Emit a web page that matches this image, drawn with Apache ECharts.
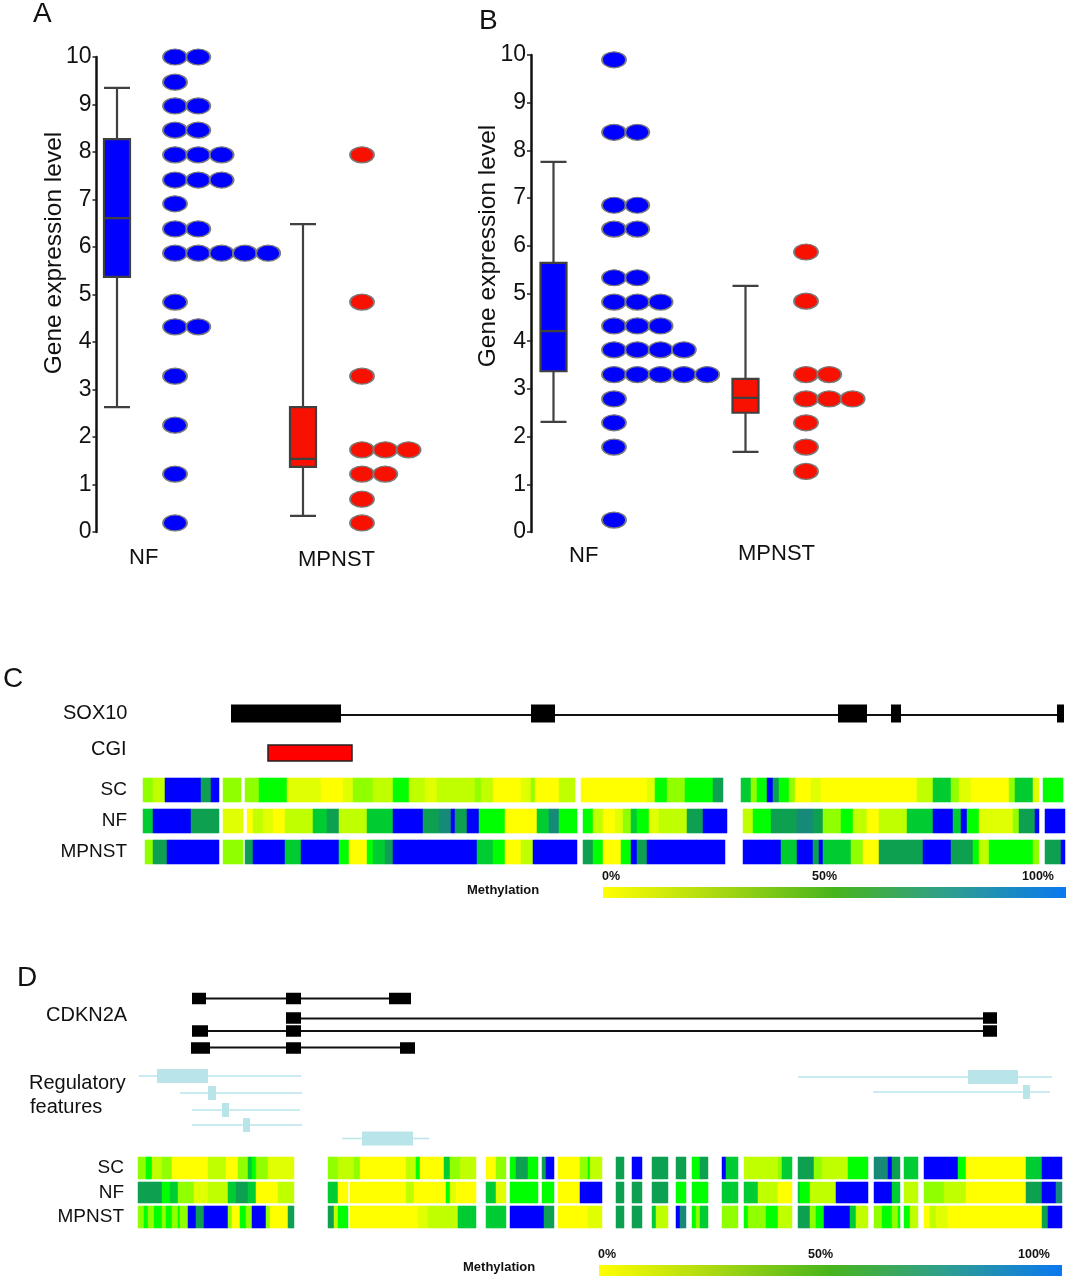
<!DOCTYPE html>
<html><head><meta charset="utf-8">
<style>html,body{margin:0;padding:0;background:#fff}#c{width:1073px;height:1280px;filter:blur(0.35px)}</style>
<script src="https://cdn.jsdelivr.net/npm/echarts@6/dist/echarts.min.js"></script>
</head><body><div id="c"></div>
<script>
// ---------- Panels A and B: box summaries [min, Q1, median, Q3, max]
const boxCategories = ['NF', 'MPNST'];
const boxANF = [2.63, 5.37, 6.61, 8.27, 9.35];
const boxAMPNST = [0.34, 1.37, 1.54, 2.63, 6.48];
const boxBNF = [2.31, 3.37, 4.21, 5.64, 7.76];
const boxBMPNST = [1.68, 2.50, 2.81, 3.21, 5.16];
const yTicks = [0,1,2,3,4,5,6,7,8,9,10];
// dot rows: [expression level, number of samples at that level]
const dotsANF = [[10,2],[9.47,1],[8.97,2],[8.46,2],[7.94,3],[7.41,3],[6.91,1],[6.38,2],[5.87,5],[4.84,1],[4.32,2],[3.28,1],[2.25,1],[1.22,1],[0.19,1]];
const dotsAMPNST = [[7.94,1],[4.84,1],[3.28,1],[1.73,3],[1.22,2],[0.69,1],[0.19,1]];
const dotsBNF = [[9.9,1],[8.38,2],[6.85,2],[6.35,2],[5.33,2],[4.82,3],[4.32,3],[3.82,4],[3.3,5],[2.79,1],[2.29,1],[1.78,1],[0.25,1]];
const dotsBMPNST = [[5.87,1],[4.84,1],[3.3,2],[2.79,3],[2.29,1],[1.78,1],[1.27,1]];

// ---------- Panel C and D methylation rows: run-length [end position, level 0-8]; null = no data
const cSC = [[1,null],[11,3],[24,2],[60,8],[70,6],[77,8],[81,null],[99,3],[103,null],[118,3],[146,4],[179,1],[202,0],[212,1],[232,3],[251,2],[268,4],[284,2],[296,1],[334,2],[339,3],[351,2],[379,0],[389,1],[394,3],[417,0],[434,2],[439,null],[506,0],[514,1],[526,4],[544,3],[571,4],[582,6],[599,null],[609,5],[615,3],[626,4],[632,8],[637,6],[647,4],[653,3],[669,0],[679,1],[775,0],[791,2],[809,5],[817,3],[829,1],[868,0],[874,3],[891,5],[897,1],[902,null],[922,4]];
const cNF = [[2,null],[11,5],[50,8],[78,6],[82,null],[101,1],[105,null],[111,0],[121,2],[132,1],[143,0],[171,2],[186,5],[197,6],[225,2],[252,5],[281,8],[297,6],[309,7],[314,8],[325,6],[337,8],[364,4],[396,0],[407,5],[418,7],[436,4],[442,null],[452,4],[461,2],[462,1],[474,0],[481,1],[489,3],[496,5],[507,4],[517,1],[546,2],[562,6],[585,8],[601,null],[612,2],[629,4],[656,6],[672,7],[682,6],[699,3],[711,4],[726,2],[737,0],[765,2],[792,5],[811,8],[819,5],[826,8],[837,4],[871,1],[877,3],[893,6],[898,8],[904,null],[924,8]];
const cMPNST = [[3,null],[11,3],[26,6],[78,8],[82,null],[101,3],[104,null],[111,6],[143,8],[159,5],[197,8],[208,4],[225,0],[232,4],[244,5],[252,6],[336,8],[352,5],[364,4],[380,0],[391,2],[436,8],[441,null],[451,6],[461,4],[479,0],[489,4],[496,8],[506,6],[584,8],[601,null],[639,8],[655,5],[671,8],[677,6],[682,8],[710,5],[721,3],[737,0],[781,6],[810,8],[831,6],[837,4],[848,2],[892,4],[897,3],[903,null],[919,6],[923,8]];
const dSC = [[8,3],[13,4],[24,2],[34,3],[70,0],[87,2],[100,0],[109,3],[114,5],[118,4],[129,3],[155,1],[190,null],[200,3],[215,2],[222,3],[267,0],[277,2],[281,4],[305,0],[311,5],[321,3],[337,2],[347,null],[357,0],[367,3],[372,null],[378,4],[389,6],[400,4],[403,null],[408,6],[415,8],[419,null],[442,0],[449,3],[452,4],[463,2],[478,null],[485,6],[493,null],[503,8],[514,null],[530,6],[538,null],[548,6],[554,null],[562,4],[569,6],[584,null],[588,8],[600,5],[605,null],[639,2],[644,3],[654,5],[659,null],[675,6],[684,3],[710,2],[729,4],[735,null],[750,7],[754,8],[762,6],[765,null],[780,5],[786,null],[819,8],[827,4],[887,0],[904,5],[924,8]];
const dNF = [[24,6],[32,4],[39,5],[55,3],[70,1],[89,2],[97,5],[110,6],[118,5],[140,0],[155,2],[190,null],[200,5],[210,0],[212,null],[267,0],[275,2],[307,0],[311,4],[317,1],[337,0],[347,null],[357,5],[367,1],[372,null],[400,4],[403,null],[415,4],[419,null],[442,0],[463,8],[478,null],[485,6],[493,null],[503,6],[514,null],[530,6],[538,null],[548,4],[554,null],[569,4],[584,null],[600,5],[605,null],[620,5],[639,2],[654,0],[659,null],[662,5],[672,4],[697,2],[729,8],[735,null],[754,8],[762,5],[765,null],[780,2],[786,null],[805,3],[827,2],[887,0],[904,6],[917,8],[924,7]];
const dMPNST = [[5,3],[9,4],[15,3],[24,4],[27,3],[34,4],[39,3],[42,4],[50,3],[57,8],[65,6],[89,8],[94,3],[102,0],[107,4],[114,3],[127,8],[132,3],[149,0],[155,6],[190,null],[195,6],[199,2],[209,4],[212,null],[279,0],[290,1],[320,2],[337,5],[347,null],[367,5],[372,null],[405,8],[415,6],[419,null],[449,0],[463,1],[478,null],[485,6],[493,null],[503,6],[514,null],[517,5],[530,2],[538,null],[542,8],[548,7],[554,null],[557,4],[562,3],[569,5],[584,null],[600,3],[605,null],[609,4],[627,3],[639,4],[654,2],[659,null],[672,6],[677,3],[685,4],[712,8],[718,5],[729,2],[735,null],[744,3],[754,4],[759,3],[762,4],[765,null],[771,4],[780,2],[786,null],[792,0],[797,2],[810,1],[904,0],[910,6],[924,8]];

// ---------- Gene tracks: [lane, start, end]
const sox10Span = [[15,90,923]];
const sox10Exons = [[13.5,90,200],[13.5,390,414],[13.5,697,726],[13.5,750,760],[13.5,916,923]];
const cgiBlock = [[53,127,211]];
const cdkn2aSpans = [[8.5,54,273],[28.5,148,859],[41,54,859],[57.5,53,277]];
const cdkn2aExons = [[8.5,54,68],[8.5,148,163],[8.5,251,273],[28,148,163],[28,845,859],[41,54,70],[41,148,163],[41,845,859],[58,53,72],[58,148,163],[58,262,277]];
const regSpans = [[86,1,163],[103,42,164],[120,54,162],[135,54,164],[148.5,204,291],[87,660,914],[102,735,912]];
const regBoxes = [[86,19,70],[103,70,78],[120,84,91],[135,105,112],[148.5,224,275],[87,830,880],[102,885,892]];

// ---------- Colour scale of the methylation rows, levels 0..8
const levelColors = ['#ffff00','#e0ff00','#c0ff00','#90ff00','#00ff00','#00cc33','#0da050','#178a78','#0000ff'];

// ---------- Builders
const grids=[], xAxes=[], yAxes=[], series=[], graphics=[], heatIdx=[];
const FONT='"Liberation Sans", Arial, sans-serif';
function addGrid(g,x,y){ const i=grids.length; grids.push(g); xAxes.push(Object.assign({gridIndex:i},x)); yAxes.push(Object.assign({gridIndex:i},y)); return i; }
function text(t,x,y,size,opt){ graphics.push(Object.assign({type:'text',x,y,silent:true,style:Object.assign({text:t,x:0,y:0,fill:'#111',font:size+'px '+FONT,textAlign:'left',textVerticalAlign:'middle'},opt&&opt.style||{})},opt&&opt.el||{})); }
function hiddenY(){ return {type:'value',min:0,max:10,show:false}; }

function boxPanel(top,height,axisX,boxL,boxW,boxNF,boxM,dotNF,dotNFx,dotM,dotMx){
  const g=addGrid({left:boxL,width:boxW,top,height},
    {type:'category',data:boxCategories,boundaryGap:false,show:false},
    {type:'value',min:0,max:10,interval:1,offset:boxL-axisX,
     axisLine:{show:true,lineStyle:{color:'#111',width:2.5}},axisTick:{show:true,length:4,lineStyle:{color:'#222',width:1.5}},
     splitLine:{show:false},axisLabel:{fontSize:23,color:'#111',fontFamily:FONT,margin:5}});
  series.push({type:'boxplot',xAxisIndex:g,yAxisIndex:g,boxWidth:[26,26],silent:true,animation:false,
    itemStyle:{borderColor:'#404040',borderWidth:2.2},
    data:[{value:boxNF,itemStyle:{color:'#0000ff'}},{value:boxM,itemStyle:{color:'#f81000'}}]});
  [[dotNF,dotNFx,4,'#0000ff'],[dotM,dotMx,2,'#f81000']].forEach(([rows,px,maxCol,col])=>{
    const gi=addGrid({left:px,width:23.3*maxCol,top,height},{type:'value',min:0,max:maxCol,show:false},hiddenY());
    const d=[]; rows.forEach(([v,n])=>{for(let k=0;k<n;k++)d.push([k,v]);});
    series.push({type:'scatter',xAxisIndex:gi,yAxisIndex:gi,symbol:'circle',symbolSize:[24,16],silent:true,animation:false,clip:false,
      itemStyle:{color:col,borderColor:'#7a7a7a',borderWidth:1.5,opacity:1},data:d});
  });
}
boxPanel(57,475,96.5,117,186,boxANF,boxAMPNST,dotsANF,175,dotsAMPNST,362);
boxPanel(55,477,531,553.5,192,boxBNF,boxBMPNST,dotsBNF,614,dotsBMPNST,806);

function expand(rle){ const out=[]; let pos=0; rle.forEach(([end,lv])=>{ if(lv!==null){ for(let c=Math.round(pos/2);c<Math.round(end/2);c++) out.push([c,0,lv]); } pos=end; }); return out; }
const colNames=[]; for(let i=0;i<462;i++) colNames.push(i);
function heatRow(name,rle,left,top,h){
  const g=addGrid({left,width:924,top,height:h},{type:'category',data:colNames,show:false},
   {type:'category',data:[name],axisLine:{show:false},axisTick:{show:false},axisLabel:{fontSize:19,color:'#111',fontFamily:FONT,margin:14}});
  heatIdx.push(series.length);
  series.push({type:'heatmap',xAxisIndex:g,yAxisIndex:g,data:expand(rle),silent:true,animation:false,progressive:0,itemStyle:{borderWidth:0}});
}
heatRow('SC',cSC,141,778,24); heatRow('NF',cNF,141,809,24); heatRow('MPNST',cMPNST,141,840,24);
heatRow('SC',dSC,138,1157,22); heatRow('NF',dNF,138,1182,21); heatRow('MPNST',dMPNST,138,1206,22);

function rectItem(h,color,stroke){ return function(p,api){ const y=api.value(0),a=api.coord([api.value(1),y]),b=api.coord([api.value(2),y]);
  return {type:'rect',shape:{x:a[0],y:a[1]-h/2,width:b[0]-a[0],height:h},style:{fill:color,stroke:stroke||null,lineWidth:stroke?1.5:0}}; }; }
function lineItem(w,color){ return function(p,api){ const y=api.value(0),a=api.coord([api.value(1),y]),b=api.coord([api.value(2),y]);
  return {type:'line',shape:{x1:a[0],y1:a[1],x2:b[0],y2:b[1]},style:{stroke:color,lineWidth:w}}; }; }
function track(g,data,fn){ series.push({type:'custom',xAxisIndex:g,yAxisIndex:g,coordinateSystem:'cartesian2d',data,renderItem:fn,silent:true,animation:false,clip:false,encode:{x:[1,2],y:0}}); }

const gC=addGrid({left:141,width:924,top:700,height:70},{type:'value',min:0,max:924,show:false},{type:'value',min:0,max:70,inverse:true,show:false});
track(gC,sox10Span,lineItem(2,'#111'));
track(gC,sox10Exons,rectItem(18,'#000'));
track(gC,cgiBlock,rectItem(16,'#ff0000','#222'));
const gD=addGrid({left:138,width:924,top:990,height:170},{type:'value',min:0,max:924,show:false},{type:'value',min:0,max:170,inverse:true,show:false});
track(gD,regSpans,lineItem(1.5,'#b8e4ea'));
track(gD,regBoxes,rectItem(14,'#b8e4ea'));
track(gD,cdkn2aSpans,lineItem(2,'#111'));
track(gD,cdkn2aExons,rectItem(11.5,'#000'));

// Text
text('A',33,14,28); text('B',479,21,28); text('C',3,679,28); text('D',17,978,28);
[[54,253],[488,246]].forEach(([x,y])=>text('Gene expression level',x,y,24.5,{el:{rotation:Math.PI/2},style:{textAlign:'center'}}));
text('NF',129,558,22); text('MPNST',298,560,22); text('NF',569,556,22); text('MPNST',738,554,22);
text('SOX10',63,713,20); text('CGI',91,749,20); text('CDKN2A',46,1015,20); text('Regulatory',29,1083,20); text('features',30,1107,20);
function legend(barX,barY,barH,labelY,mx,my){
  graphics.push({type:'rect',shape:{x:barX,y:barY,width:463,height:barH},silent:true,style:{fill:new echarts.graphic.LinearGradient(0,0,1,0,[{offset:0,color:'#ffff00'},{offset:0.25,color:'#a8d812'},{offset:0.5,color:'#48b41c'},{offset:0.75,color:'#2e9e90'},{offset:1,color:'#0a78f0'}])}});
  text('0%',barX-1,labelY,12,{style:{font:'bold 12.5px '+FONT}});
  text('50%',barX+209,labelY,12,{style:{font:'bold 12.5px '+FONT}});
  text('100%',barX+419,labelY,12,{style:{font:'bold 12.5px '+FONT}});
  text('Methylation',mx,my,12,{style:{font:'bold 13px '+FONT}});
}
legend(603,887,11,877,467,890); legend(599,1265,11,1255,463,1267);

const chart=echarts.init(document.getElementById('c'),null,{renderer:'canvas'});
chart.setOption({animation:false,backgroundColor:'#fff',grid:grids,xAxis:xAxes,yAxis:yAxes,
  visualMap:[{type:'continuous',show:false,min:0,max:8,dimension:2,seriesIndex:heatIdx,inRange:{color:levelColors}}],
  series,graphic:{elements:graphics}});
</script></body></html>
